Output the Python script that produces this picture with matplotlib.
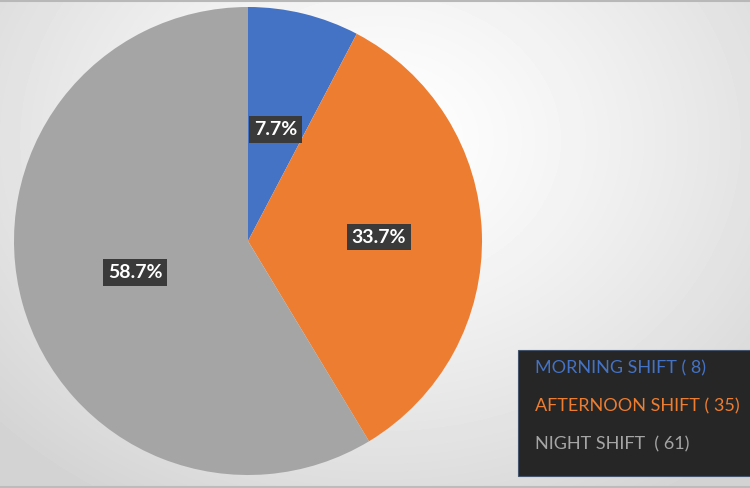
import matplotlib.pyplot as plt
from matplotlib.patches import Rectangle
import numpy as np

plt.rcParams['font.family'] = ['Lato', 'DejaVu Sans']

shifts = ["MORNING SHIFT ( 8)", "AFTERNOON SHIFT ( 35)", "NIGHT SHIFT  ( 61)"]
counts = [8, 35, 61]
colors = ["#4472C4", "#ED7D31", "#A5A5A5"]
label_radius = [0.49, 0.56, 0.50]

W, H = 750, 488
fig = plt.figure(figsize=(W / 100, H / 100), dpi=100)

# soft radial background
bg = fig.add_axes([0, 0, 1, 1])
yy, xx = np.mgrid[0:H, 0:W]
d = np.sqrt(((xx - 380) / 520.0) ** 2 + ((yy - 140) / 420.0) ** 2)
shade = 1.0 - 0.17 * np.clip(d, 0, 1) ** 1.3
bg.imshow(shade, cmap="gray", vmin=0, vmax=1, extent=[0, W, H, 0], aspect="auto")
bg.plot([0, W], [1, 1], color="#b8b8b8", lw=1.5)
bg.plot([0, W], [H - 1.5, H - 1.5], color="#bcbcbc", lw=1.5)
bg.set_xlim(0, W)
bg.set_ylim(H, 0)
bg.axis("off")

# pie
cx, cy, r = 248, 241, 234
ax = fig.add_axes([(cx - r) / W, (H - cy - r) / H, 2 * r / W, 2 * r / H])
wedges, _ = ax.pie(counts, colors=colors, startangle=90, counterclock=False,
                   radius=1.0, wedgeprops=dict(linewidth=0))
ax.set_xlim(-1, 1)
ax.set_ylim(-1, 1)
ax.set_aspect("equal")

total = sum(counts)
for w, c, lr in zip(wedges, counts, label_radius):
    mid = np.deg2rad((w.theta1 + w.theta2) / 2)
    ax.text(lr * np.cos(mid), lr * np.sin(mid), f"{100 * c / total:.1f}%",
            ha="center", va="center", color="white", fontsize=14, fontweight="bold",
            bbox=dict(boxstyle="square,pad=0.25", facecolor="#3a3a3a", edgecolor="none"))

# legend panel
bg.add_patch(Rectangle((518, 350), 240, 126, facecolor="#262626", edgecolor="#44546a", lw=0.8))
leg = fig.legend(wedges, shifts, loc="upper left", bbox_to_anchor=(519 / W, 1 - 344 / H),
                 frameon=False, handlelength=0, handletextpad=0, fontsize=13,
                 labelspacing=1.2, labelcolor=colors)
for h in leg.legend_handles:
    h.set_visible(False)

fig.savefig("out.png", dpi=100)
